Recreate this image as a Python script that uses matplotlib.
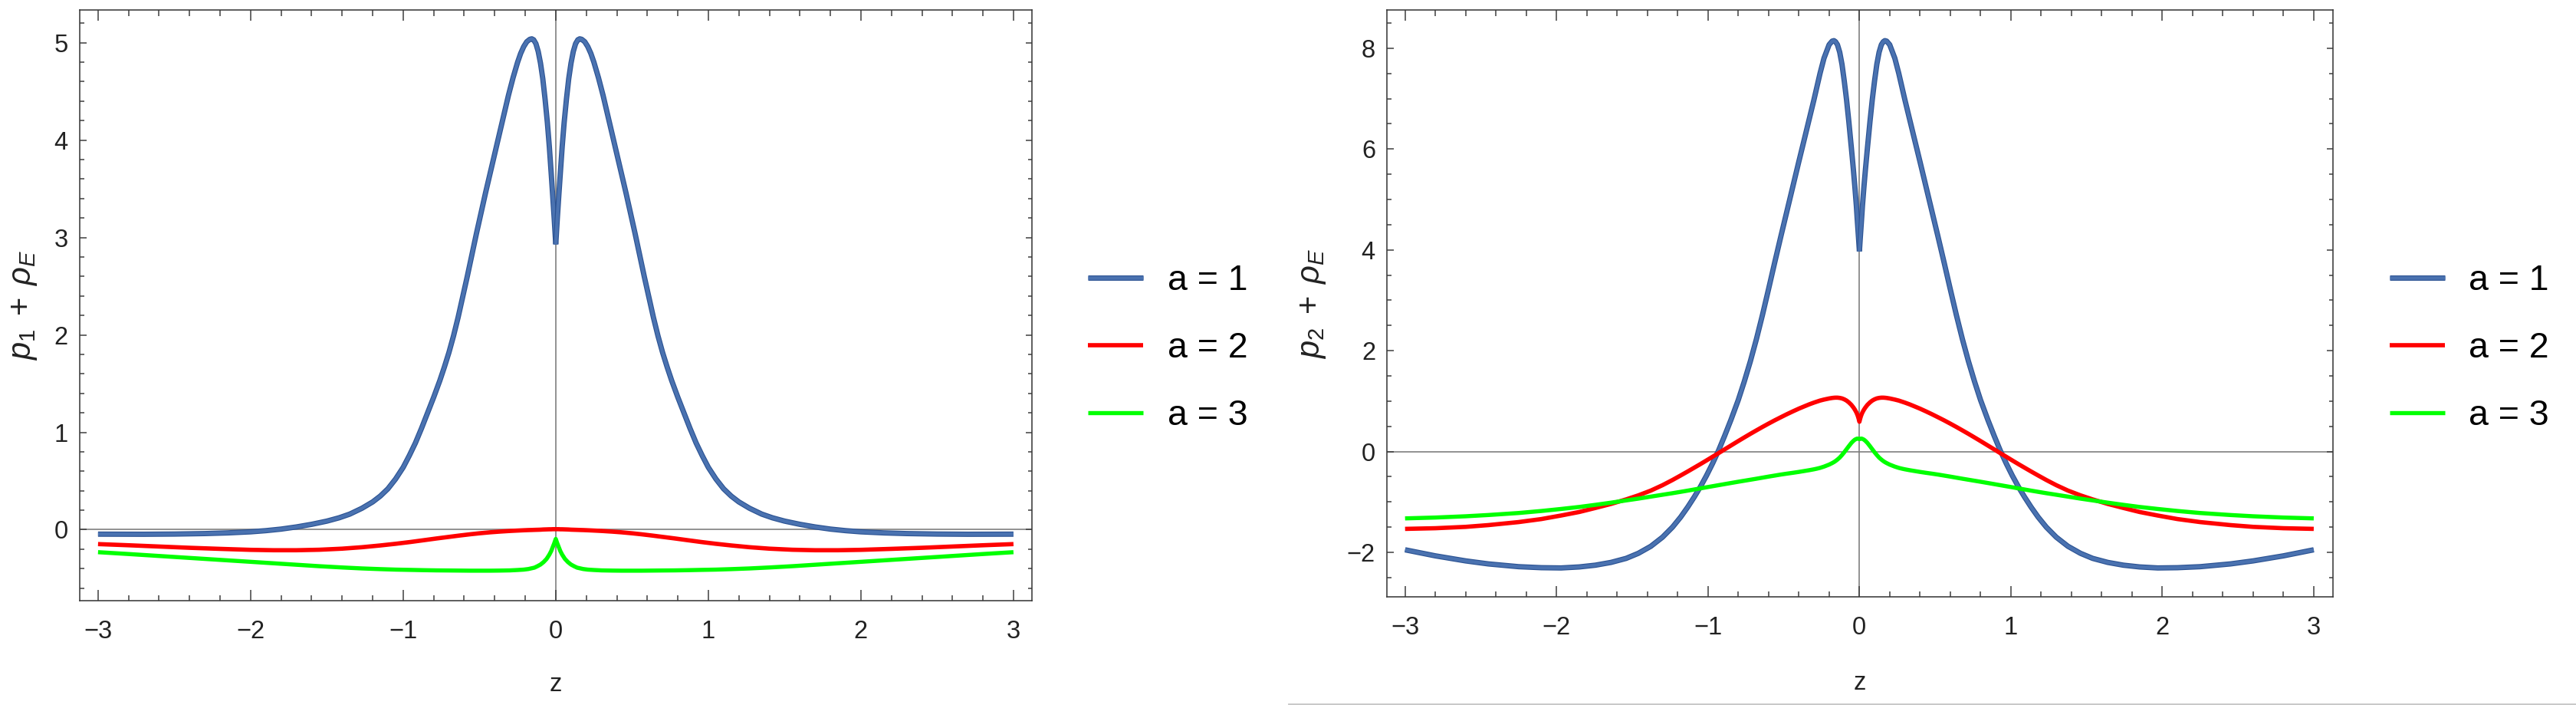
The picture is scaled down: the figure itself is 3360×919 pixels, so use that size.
import numpy as np
import matplotlib
matplotlib.use("Agg")
import matplotlib.pyplot as plt
from matplotlib.ticker import MultipleLocator
import matplotlib.patheffects as pe
from matplotlib.lines import Line2D

plt.rcParams['font.family'] = ['Liberation Sans', 'DejaVu Sans']
plt.rcParams['mathtext.fontset'] = 'custom'
plt.rcParams['mathtext.rm'] = 'Liberation Sans'
plt.rcParams['mathtext.it'] = 'Liberation Sans:italic'
plt.rcParams['mathtext.bf'] = 'Liberation Sans:bold'

# ---------------- data ----------------
series_labels = ['a = 1', 'a = 2', 'a = 3']

# ---- left panel: p1 + rho_E ----
z_p1_a1 = [-3.0, -2.7, -2.5, -2.3, -2.15, -2.0, -1.9, -1.8, -1.7, -1.6, -1.5, -1.42, -1.35,
           -1.27, -1.2, -1.15, -1.1, -1.05, -1.0, -0.96, -0.92, -0.88, -0.84, -0.8, -0.76,
           -0.73, -0.7, -0.67, -0.64, -0.61, -0.58, -0.55, -0.52, -0.49, -0.46, -0.43, -0.4,
           -0.37, -0.34, -0.31, -0.28, -0.25, -0.23, -0.21, -0.19, -0.17, -0.157, -0.145,
           -0.13, -0.115, -0.1, -0.085, -0.07, -0.055, -0.042, -0.03, -0.02, -0.015, -0.01,
           -0.005, 0.0,
           0.005, 0.01, 0.015, 0.02, 0.03, 0.042, 0.055, 0.07, 0.085, 0.1, 0.115, 0.13,
           0.145, 0.157, 0.17, 0.19, 0.21, 0.23, 0.25, 0.28, 0.31, 0.34, 0.37, 0.4, 0.43,
           0.46, 0.49, 0.52, 0.55, 0.58, 0.61, 0.64, 0.67, 0.7, 0.73, 0.76, 0.8, 0.84, 0.88,
           0.92, 0.96, 1.0, 1.05, 1.1, 1.15, 1.2, 1.27, 1.35, 1.42, 1.5, 1.6, 1.7, 1.8, 1.9,
           2.0, 2.15, 2.3, 2.5, 2.7, 3.0]
p1_a1 = [-0.046, -0.047, -0.045, -0.04, -0.033, -0.022, -0.01, 0.006, 0.028, 0.055, 0.088,
         0.122, 0.16, 0.22, 0.285, 0.345, 0.42, 0.52, 0.64, 0.76, 0.89, 1.04, 1.2, 1.36,
         1.53, 1.67, 1.82, 1.99, 2.18, 2.39, 2.60, 2.82, 3.04, 3.25, 3.46, 3.66, 3.86,
         4.06, 4.26, 4.46, 4.64, 4.80, 4.89, 4.96, 5.01, 5.035, 5.04, 5.03, 4.99, 4.91,
         4.79, 4.63, 4.42, 4.18, 3.93, 3.66, 3.43, 3.31, 3.19, 3.06, 2.93,
         3.06, 3.19, 3.31, 3.43, 3.66, 3.93, 4.18, 4.42, 4.63, 4.79, 4.91, 4.99, 5.03, 5.04,
         5.035, 5.01, 4.96, 4.89, 4.80, 4.64, 4.46, 4.26, 4.06, 3.86, 3.66, 3.46, 3.25,
         3.04, 2.82, 2.60, 2.39, 2.18, 1.99, 1.82, 1.67, 1.53, 1.36, 1.2, 1.04, 0.89, 0.76,
         0.64, 0.52, 0.42, 0.345, 0.285, 0.22, 0.16, 0.122, 0.088, 0.055, 0.028, 0.006,
         -0.01, -0.022, -0.033, -0.04, -0.045, -0.047, -0.046]

z_p1_a23 = [-3.0, -2.8, -2.6, -2.4, -2.2, -2.0, -1.85, -1.7, -1.55, -1.4, -1.27, -1.15,
            -1.05, -0.95, -0.86, -0.78, -0.7, -0.63, -0.56, -0.5, -0.43, -0.37, -0.3,
            -0.25, -0.21, -0.18, -0.157, -0.14, -0.12, -0.1, -0.08, -0.06, -0.042, -0.03,
            -0.02, -0.01, 0.0,
            0.01, 0.02, 0.03, 0.042, 0.06, 0.08, 0.1, 0.12, 0.14, 0.157, 0.18, 0.21, 0.25,
            0.3, 0.37, 0.43, 0.5, 0.56, 0.63, 0.7, 0.78, 0.86, 0.95, 1.05, 1.15, 1.27,
            1.4, 1.55, 1.7, 1.85, 2.0, 2.2, 2.4, 2.6, 2.8, 3.0]
p1_a2 = [-0.148, -0.160, -0.173, -0.186, -0.197, -0.207, -0.211, -0.211, -0.206, -0.195,
         -0.180, -0.162, -0.145, -0.126, -0.107, -0.090, -0.074, -0.060, -0.047, -0.037,
         -0.027, -0.020, -0.013, -0.009, -0.006, -0.004, -0.003, -0.002, -0.001, 0.0,
         0.002, 0.003, 0.004, 0.004, 0.005, 0.005, 0.005,
         0.005, 0.005, 0.004, 0.004, 0.003, 0.002, 0.0, -0.001, -0.002, -0.003, -0.004,
         -0.006, -0.009, -0.013, -0.020, -0.027, -0.037, -0.047, -0.060, -0.074, -0.090,
         -0.107, -0.126, -0.145, -0.162, -0.180, -0.195, -0.206, -0.211, -0.211, -0.207,
         -0.197, -0.186, -0.173, -0.160, -0.148]
p1_a3 = [-0.231, -0.250, -0.270, -0.290, -0.310, -0.330, -0.345, -0.360, -0.375, -0.388,
         -0.398, -0.405, -0.410, -0.413, -0.416, -0.418, -0.419, -0.420, -0.421, -0.421,
         -0.421, -0.420, -0.418, -0.414, -0.410, -0.404, -0.396, -0.390, -0.375, -0.358,
         -0.333, -0.300, -0.256, -0.220, -0.180, -0.140, -0.095,
         -0.140, -0.180, -0.220, -0.256, -0.300, -0.333, -0.358, -0.375, -0.390, -0.396,
         -0.404, -0.410, -0.414, -0.418, -0.420, -0.421, -0.421, -0.421, -0.420, -0.419,
         -0.418, -0.416, -0.413, -0.410, -0.405, -0.398, -0.388, -0.375, -0.360, -0.345,
         -0.330, -0.310, -0.290, -0.270, -0.250, -0.231]

# ---- right panel: p2 + rho_E ----
z_p2 = [-3.0, -2.8, -2.6, -2.45, -2.25, -2.1, -1.97, -1.85, -1.743, -1.64, -1.54, -1.46,
        -1.377, -1.3, -1.234, -1.18, -1.133, -1.09, -1.05, -1.01, -0.97, -0.93, -0.89,
        -0.848, -0.8, -0.76, -0.72, -0.68, -0.64, -0.6, -0.56, -0.52, -0.48, -0.44, -0.4,
        -0.36, -0.33, -0.3, -0.28, -0.26, -0.234, -0.2, -0.18, -0.168, -0.158, -0.145,
        -0.13, -0.115, -0.1, -0.085, -0.07, -0.053, -0.04, -0.03, -0.02, -0.015, -0.01,
        -0.005, 0.0,
        0.005, 0.01, 0.015, 0.02, 0.03, 0.04, 0.053, 0.07, 0.085, 0.1, 0.115, 0.13, 0.145,
        0.158, 0.168, 0.18, 0.2, 0.234, 0.26, 0.28, 0.3, 0.33, 0.36, 0.4, 0.44, 0.48, 0.52,
        0.56, 0.6, 0.64, 0.68, 0.72, 0.76, 0.8, 0.848, 0.89, 0.93, 0.97, 1.01, 1.05, 1.09,
        1.133, 1.18, 1.234, 1.3, 1.377, 1.46, 1.54, 1.64, 1.743, 1.85, 1.97, 2.1, 2.25,
        2.45, 2.6, 2.8, 3.0]
p2_a1 = [-1.95, -2.07, -2.17, -2.23, -2.285, -2.305, -2.31, -2.29, -2.255, -2.20, -2.12,
         -2.02, -1.88, -1.70, -1.50, -1.30, -1.10, -0.90, -0.70, -0.48, -0.24, 0.02, 0.31,
         0.63, 1.02, 1.39, 1.79, 2.23, 2.71, 3.22, 3.74, 4.25, 4.75, 5.25, 5.75, 6.24,
         6.61, 6.98, 7.24, 7.5, 7.8, 8.07, 8.14, 8.15, 8.13, 8.07, 7.92, 7.68, 7.35, 6.98,
         6.55, 6.02, 5.6, 5.25, 4.87, 4.64, 4.42, 4.2, 3.97,
         4.2, 4.42, 4.64, 4.87, 5.25, 5.6, 6.02, 6.55, 6.98, 7.35, 7.68, 7.92, 8.07, 8.13,
         8.15, 8.14, 8.07, 7.8, 7.5, 7.24, 6.98, 6.61, 6.24, 5.75, 5.25, 4.75, 4.25, 3.74,
         3.22, 2.71, 2.23, 1.79, 1.39, 1.02, 0.63, 0.31, 0.02, -0.24, -0.48, -0.70, -0.90,
         -1.10, -1.30, -1.50, -1.70, -1.88, -2.02, -2.12, -2.20, -2.255, -2.29, -2.31,
         -2.305, -2.285, -2.23, -2.17, -2.07, -1.95]
p2_a2 = [-1.535, -1.522, -1.495, -1.46, -1.40, -1.34, -1.27, -1.2, -1.12, -1.04, -0.95,
         -0.87, -0.775, -0.668, -0.565, -0.475, -0.395, -0.32, -0.25, -0.178, -0.105,
         -0.032, 0.042, 0.119, 0.207, 0.279, 0.35, 0.419, 0.487, 0.553, 0.617, 0.678,
         0.738, 0.795, 0.85, 0.90, 0.937, 0.97, 0.99, 1.01, 1.03, 1.052, 1.062, 1.066,
         1.068, 1.068, 1.063, 1.053, 1.035, 1.01, 0.975, 0.925, 0.875, 0.83, 0.775, 0.74,
         0.70, 0.65, 0.59,
         0.65, 0.70, 0.74, 0.775, 0.83, 0.875, 0.925, 0.975, 1.01, 1.035, 1.053, 1.063,
         1.068, 1.068, 1.066, 1.062, 1.052, 1.03, 1.01, 0.99, 0.97, 0.937, 0.90, 0.85,
         0.795, 0.738, 0.678, 0.617, 0.553, 0.487, 0.419, 0.35, 0.279, 0.207, 0.119,
         0.042, -0.032, -0.105, -0.178, -0.25, -0.32, -0.395, -0.475, -0.565, -0.668,
         -0.775, -0.87, -0.95, -1.04, -1.12, -1.2, -1.27, -1.34, -1.40, -1.46, -1.495,
         -1.522, -1.535]
p2_a3 = [-1.327, -1.31, -1.285, -1.26, -1.22, -1.18, -1.14, -1.1, -1.058, -1.015, -0.97,
         -0.935, -0.895, -0.858, -0.827, -0.80, -0.776, -0.753, -0.732, -0.71, -0.689,
         -0.668, -0.647, -0.625, -0.60, -0.58, -0.56, -0.54, -0.519, -0.498, -0.478,
         -0.458, -0.44, -0.423, -0.405, -0.385, -0.37, -0.353, -0.34, -0.325, -0.30, -0.26,
         -0.23, -0.21, -0.19, -0.16, -0.12, -0.07, -0.015, 0.045, 0.105, 0.17, 0.21, 0.235,
         0.25, 0.255, 0.255, 0.25, 0.245,
         0.25, 0.255, 0.255, 0.25, 0.235, 0.21, 0.17, 0.105, 0.045, -0.015, -0.07, -0.12,
         -0.16, -0.19, -0.21, -0.23, -0.26, -0.30, -0.325, -0.34, -0.353, -0.37, -0.385,
         -0.405, -0.423, -0.44, -0.458, -0.478, -0.498, -0.519, -0.54, -0.56, -0.58, -0.60,
         -0.625, -0.647, -0.668, -0.689, -0.71, -0.732, -0.753, -0.776, -0.80, -0.827,
         -0.858, -0.895, -0.935, -0.97, -1.015, -1.058, -1.1, -1.14, -1.18, -1.22, -1.26,
         -1.285, -1.31, -1.327]

# ---------------- styling ----------------
W, H = 3360, 919
DPI = 100
BLUE_IN = '#4a72b0'
BLUE_OUT = '#2c5393'
RED = '#ff0000'
GREEN = '#00ff00'
FONT_TICK = 23.5
FONT_AXLABEL = 30
FONT_LEG = 33.5
PX = 72.0 / DPI  # points per pixel

fig = plt.figure(figsize=(W / DPI, H / DPI), dpi=DPI)
fig.patch.set_facecolor('white')


def px_rect(x0, y0, x1, y1):
    return [x0 / W, 1 - y1 / H, (x1 - x0) / W, (y1 - y0) / H]


def style_axes(ax, xlim, ylim, ymajor, yminor):
    ax.set_xlim(*xlim)
    ax.set_ylim(*ylim)
    ax.xaxis.set_major_locator(MultipleLocator(1))
    ax.xaxis.set_minor_locator(MultipleLocator(0.2))
    ax.yaxis.set_major_locator(MultipleLocator(ymajor))
    ax.yaxis.set_minor_locator(MultipleLocator(yminor))
    for s in ax.spines.values():
        s.set_color('#3a3a3a')
        s.set_linewidth(1.6 * PX)
    ax.tick_params(which='both', direction='in', top=True, right=True,
                   color='#3a3a3a', width=1.5 * PX, labelcolor='#222222',
                   labelsize=FONT_TICK)
    ax.tick_params(axis='x', which='major', length=14 * PX, pad=25 * PX)
    ax.tick_params(axis='x', which='minor', length=7.5 * PX)
    ax.tick_params(axis='y', which='major', length=8.5 * PX, pad=15 * PX)
    ax.tick_params(axis='y', which='minor', length=5.5 * PX)
    ax.axhline(0, color='#7a7a7a', lw=1.6 * PX, zorder=1)
    ax.axvline(0, color='#7a7a7a', lw=1.6 * PX, zorder=1)


def draw_curves(ax, z1, y1, z2, y2, z3, y3):
    z1 = np.asarray(z1)
    y1 = np.asarray(y1)
    mid = int(np.argmin(np.abs(z1)))
    effects = [pe.Stroke(linewidth=6.9 * PX, foreground=BLUE_OUT), pe.Normal()]
    # a = 1: two branches meeting at z = 0 (flat cut at the cusp)
    h1, = ax.plot(z1[:mid + 1], y1[:mid + 1], color=BLUE_IN, lw=4.6 * PX,
                  solid_capstyle='butt', zorder=3, path_effects=effects)
    ax.plot(z1[mid:], y1[mid:], color=BLUE_IN, lw=4.6 * PX,
            solid_capstyle='butt', zorder=3, path_effects=effects)
    h2, = ax.plot(z2, y2, color=RED, lw=5.6 * PX, zorder=4, solid_capstyle='butt')
    h3, = ax.plot(z3, y3, color=GREEN, lw=5.4 * PX, zorder=5, solid_capstyle='butt')
    return [h1, h2, h3]


def add_legend(ax, handles, x_px, yc_px):
    em = FONT_LEG / PX
    ax.legend(handles, series_labels, loc='center left',
              bbox_to_anchor=(x_px / W, 1 - yc_px / H),
              bbox_transform=fig.transFigure, frameon=False,
              fontsize=FONT_LEG, handlelength=72 / em, handletextpad=32 / em,
              labelspacing=0.95, borderpad=0, borderaxespad=0)


# left panel
axL = fig.add_axes(px_rect(103.6, 12.9, 1346, 782.5))
style_axes(axL, (-3.122, 3.121), (-0.725, 5.337), 1, 0.2)
hL = draw_curves(axL, z_p1_a1, p1_a1, z_p1_a23, p1_a2, z_p1_a23, p1_a3)
axL.set_xlabel('z', fontsize=FONT_TICK, color='#222222')
axL.xaxis.set_label_coords(0.5, -0.1423)
axL.xaxis.label.set_va('center')
axL.set_ylabel(r'$p_1\;+\;\rho_E$', fontsize=FONT_AXLABEL, color='#222222')
axL.yaxis.set_label_coords(-0.0584, 0.5)
axL.yaxis.label.set_va('center')
add_legend(axL, hL, 1418.7, 454)

# right panel
axR = fig.add_axes(px_rect(1809, 12.9, 3043, 777.8))
style_axes(axR, (-3.12, 3.127), (-2.88, 8.76), 2, 0.5)
hR = draw_curves(axR, z_p2, p2_a1, z_p2, p2_a2, z_p2, p2_a3)
axR.set_xlabel('z', fontsize=FONT_TICK, color='#222222')
axR.xaxis.set_label_coords(0.5, -0.1467)
axR.xaxis.label.set_va('center')
axR.set_ylabel(r'$p_2\;+\;\rho_E$', fontsize=FONT_AXLABEL, color='#222222')
axR.yaxis.set_label_coords(-0.0786, 0.5)
axR.yaxis.label.set_va('center')
add_legend(axR, hR, 3116.5, 454)

# faint page rule at the bottom of the right half
fig.add_artist(Line2D([1681 / W, 1.0], [1 - 917.5 / H, 1 - 917.5 / H],
                      transform=fig.transFigure, color='#c4c4c4', lw=1.8 * PX))

fig.savefig('out.png', dpi=DPI, facecolor='white')
